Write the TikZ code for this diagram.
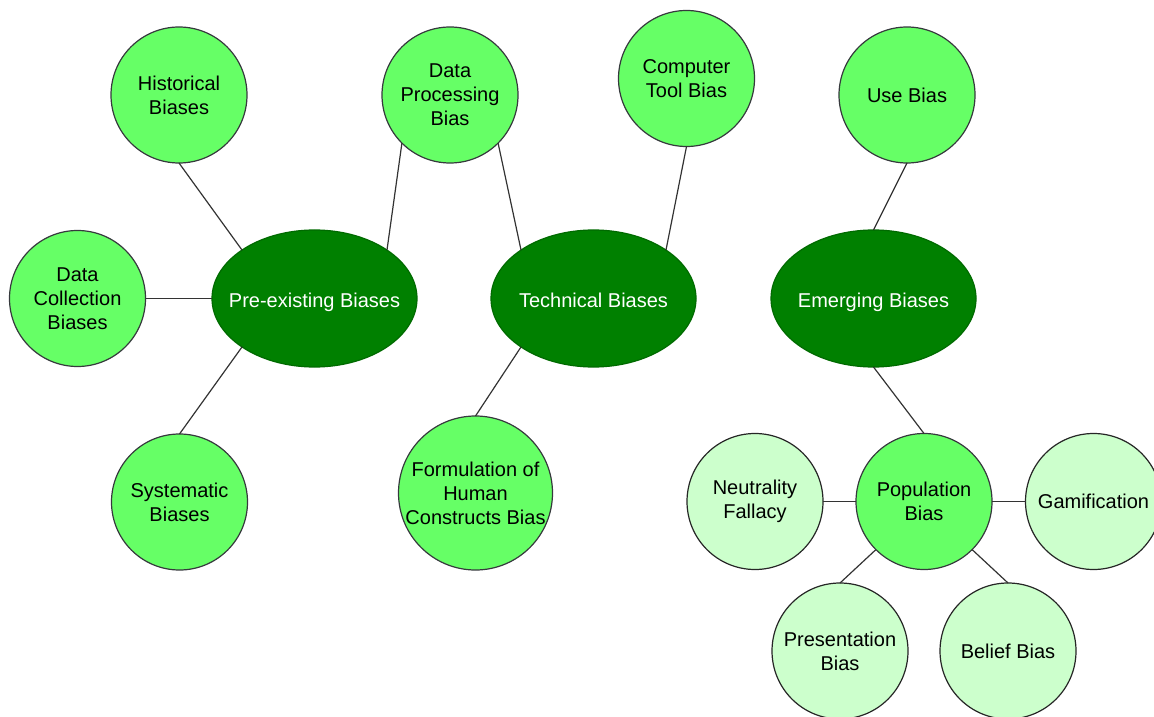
\documentclass[tikz,border=0pt]{standalone}
\usepackage{fontspec}
\setmainfont{Liberation Sans}
\usetikzlibrary{shapes.geometric}
\definecolor{lg}{HTML}{66FF66}
\definecolor{dg}{HTML}{008000}
\definecolor{dgb}{HTML}{006A00}
\definecolor{pg}{HTML}{CCFFCC}
\definecolor{bd}{HTML}{36393D}
\begin{document}
\begin{tikzpicture}[x=0.5pt,y=-0.5pt,
  bub/.style={circle,draw=bd,line width=0.6pt,fill=lg,minimum size=68pt,inner sep=0pt,outer sep=0pt,align=center,font=\fontsize{10}{12}\selectfont},
  pale/.style={bub,fill=pg,draw=black!85},
  cat/.style={ellipse,draw=dgb,line width=0.6pt,fill=dg,minimum width=102.5pt,minimum height=68.5pt,inner sep=0pt,outer sep=0pt,text=white,text height=9pt,text depth=0.5pt,font=\fontsize{10}{12}\selectfont},
  link/.style={draw=black!80,line width=0.6pt}]
\useasboundingbox (0,0) rectangle (1154,716);
\clip (0,0) rectangle (1154,716);
% category ellipses
\node[cat] (pre) at (314.5,298.5) {\makebox[0pt]{Pre-existing Biases}};
\node[cat] (tech) at (593.5,298.5) {\makebox[0pt]{Technical Biases}};
\node[cat] (emer) at (873.5,298.5) {\makebox[0pt]{Emerging Biases}};
% bubbles
\node[bub] (hist) at (179,95) {Historical\\Biases};
\node[bub] (dcol) at (77.5,298.5) {Data\\Collection\\Biases};
\node[bub] (syst) at (179.5,502) {Systematic\\Biases};
\node[bub] (dproc) at (450,95) {Data\\Processing\\Bias};
\node[bub] (ctool) at (686.5,78.5) {Computer\\Tool Bias};
\node[bub,minimum size=77pt] (form) at (475.5,493) {Formulation of\\Human\\Constructs Bias};
\node[bub] (use) at (907,95) {Use Bias};
\node[bub] (pop) at (924,501.5) {Population\\Bias};
\node[pale] (neut) at (755,501.5) {Neutrality\\Fallacy};
\node[pale] (gam) at (1093.5,501.5) {Gamification};
\node[pale] (pres) at (840,651) {Presentation\\Bias};
\node[pale] (bel) at (1008,651) {Belief Bias};
% connectors
\draw[link] (hist.south) -- (pre.north west);
\draw[link] (dcol.east) -- (pre.west);
\draw[link] (pre.south west) -- (syst.north);
\draw[link] (pre.north east) -- (dproc.south west);
\draw[link] (dproc.south east) -- (tech.north west);
\draw[link] (ctool.south) -- (tech.north east);
\draw[link] (tech.south west) -- (form.north);
\draw[link] (use.south) -- (emer.north);
\draw[link] (emer.south) -- (pop.north);
\draw[link] (neut.east) -- (pop.west);
\draw[link] (pop.east) -- (gam.west);
\draw[link] (pop.south west) -- (pres.north);
\draw[link] (pop.south east) -- (bel.north);
\end{tikzpicture}
\end{document}
